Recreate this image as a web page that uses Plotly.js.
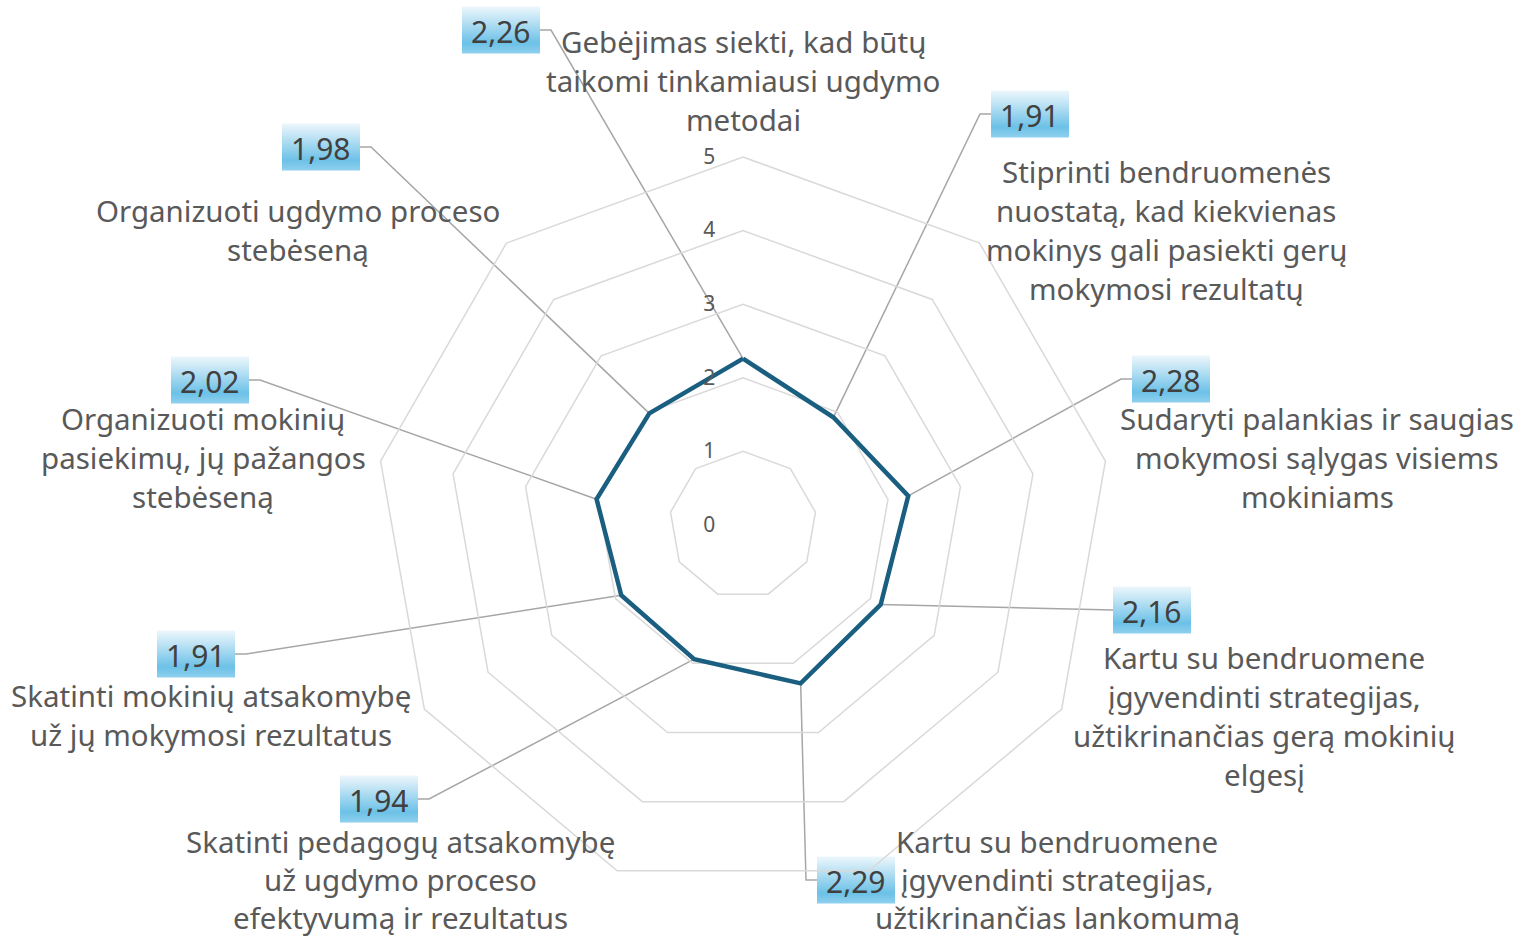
<!DOCTYPE html>
<html><head><meta charset="utf-8">
<script src="https://cdn.plot.ly/plotly-3.0.1.min.js"></script>
<style>html,body{margin:0;padding:0;background:#fff;} #chart{width:1517px;height:938px;}</style>
</head><body><div id="chart"></div>
<script>
// ---- data ----
const categories = [
  'Gebėjimas siekti, kad būtų<br>taikomi tinkamiausi ugdymo<br>metodai',
  'Stiprinti bendruomenės<br>nuostatą, kad kiekvienas<br>mokinys gali pasiekti gerų<br>mokymosi rezultatų',
  'Sudaryti palankias ir saugias<br>mokymosi sąlygas visiems<br>mokiniams',
  'Kartu su bendruomene<br>įgyvendinti strategijas,<br>užtikrinančias gerą mokinių<br>elgesį',
  'Kartu su bendruomene<br>įgyvendinti strategijas,<br>užtikrinančias lankomumą',
  'Skatinti pedagogų atsakomybę<br>už ugdymo proceso<br>efektyvumą ir rezultatus',
  'Skatinti mokinių atsakomybę<br>už jų mokymosi rezultatus',
  'Organizuoti mokinių<br>pasiekimų, jų pažangos<br>stebėseną',
  'Organizuoti ugdymo proceso<br>stebėseną'
];
const values = [2.26, 1.91, 2.28, 2.16, 2.29, 1.94, 1.91, 2.02, 1.98];
const radialTickValues = [0, 1, 2, 3, 4, 5];

// ---- layout (pixel positions) ----
const W = 1517, H = 938;
const CX = 743, CY = 525, R = 368, RMAX = 5;
// category label: centre x, first-line y, line spacing
const catLabelPos = [[743,41,39],[1166,171,39],[1317,418,39],[1264,657,39],[1057,841,38],[400,841,38],[211,695,39],[203,418,39],[298,210,39]];
// value box centre x, y, and side where leader attaches ('R' = right edge, 'L' = left edge)
const boxPos = [[501,30,'R'],[1030,114,'L'],[1171,379,'L'],[1152,610,'L'],[856,880,'L'],[379,799,'R'],[196,654,'R'],[210,380,'R'],[321,147,'R']];
const BOXW = 78, BOXH = 47, ELBOW = 11;

const FONT = 'Noto Sans, Open Sans, sans-serif';

const traces = [];
const n = categories.length;

// gradient value boxes
boxPos.forEach(([bx, by]) => {
  const x0 = bx - BOXW/2, x1 = bx + BOXW/2, y0 = by - BOXH/2, y1 = by + BOXH/2;
  traces.push({
    type: 'scatter', mode: 'lines', xaxis: 'x', yaxis: 'y',
    x: [x0, x1, x1, x0, x0], y: [y0, y0, y1, y1, y0],
    fill: 'toself', line: {width: 0, color: 'rgba(0,0,0,0)'},
    fillgradient: {type: 'vertical', start: y0, stop: y1,
      colorscale: [[0, '#eef7fc'], [0.78, '#6cc1e7'], [1, '#8fd0ee']]},
    hoverinfo: 'skip', showlegend: false
  });
});

// leader lines from each data point to its label box
const lx = [], ly = [];
values.forEach((v, i) => {
  const th = i * 2 * Math.PI / n;
  const rp = v / RMAX * R;
  const px = CX + rp * Math.sin(th), py = CY - rp * Math.cos(th);
  const [bx, by, side] = boxPos[i];
  const ex = side === 'R' ? bx + BOXW/2 : bx - BOXW/2;
  const elx = side === 'R' ? ex + ELBOW : ex - ELBOW;
  lx.push(px, elx, ex, null); ly.push(py, by, by, null);
});
traces.push({type: 'scatter', mode: 'lines', x: lx, y: ly, xaxis: 'x', yaxis: 'y',
  line: {color: '#a6a6a6', width: 1.5}, hoverinfo: 'skip', showlegend: false, connectgaps: false});

// radar series
traces.push({
  type: 'scatterpolar', mode: 'lines',
  r: values.concat([values[0]]), theta: categories.concat([categories[0]]),
  line: {color: '#1a5e80', width: 4.5}, showlegend: false, hoverinfo: 'r+theta'
});

const annotations = [];
boxPos.forEach(([bx, by], i) => {
  annotations.push({xref: 'x', yref: 'y', x: bx, y: by + 1, showarrow: false,
    text: values[i].toFixed(2).replace('.', ','), borderpad: 0,
    font: {family: FONT, size: 30, color: '#404040'}, xanchor: 'center', yanchor: 'middle'});
});
categories.forEach((c, i) => {
  const [cx, cy, lh] = catLabelPos[i];
  c.split('<br>').forEach((ln, k) => {
    annotations.push({xref: 'x', yref: 'y', x: cx, y: cy + k * lh, showarrow: false,
      text: ln, borderpad: 0, font: {family: FONT, size: 29.5, color: '#595959'},
      xanchor: 'center', yanchor: 'middle'});
  });
});

const layout = {
  width: W, height: H, margin: {l: 0, r: 0, t: 0, b: 0},
  paper_bgcolor: '#ffffff', plot_bgcolor: 'rgba(0,0,0,0)', showlegend: false,
  xaxis: {range: [0, W], domain: [0, 1], visible: false, fixedrange: true},
  yaxis: {range: [H, 0], domain: [0, 1], visible: false, fixedrange: true},
  polar: {
    domain: {x: [(CX - R) / W, (CX + R) / W], y: [1 - (CY + R) / H, 1 - (CY - R) / H]},
    bgcolor: 'rgba(0,0,0,0)', gridshape: 'linear',
    radialaxis: {range: [0, RMAX], tickvals: radialTickValues, angle: 90, tickangle: 90,
      side: 'counterclockwise', showline: false, ticks: 'outside', ticklen: 20,
      tickcolor: 'rgba(0,0,0,0)', gridcolor: '#d9d9d9', gridwidth: 1.5,
      tickfont: {family: FONT, size: 21, color: '#595959'}},
    angularaxis: {type: 'category', rotation: 90, direction: 'clockwise', showgrid: false,
      showticklabels: false, ticks: '', showline: true, linecolor: '#d9d9d9', linewidth: 1.5}
  },
  annotations: annotations
};

Plotly.newPlot('chart', traces, layout, {displayModeBar: false, staticPlot: true});
</script></body></html>
